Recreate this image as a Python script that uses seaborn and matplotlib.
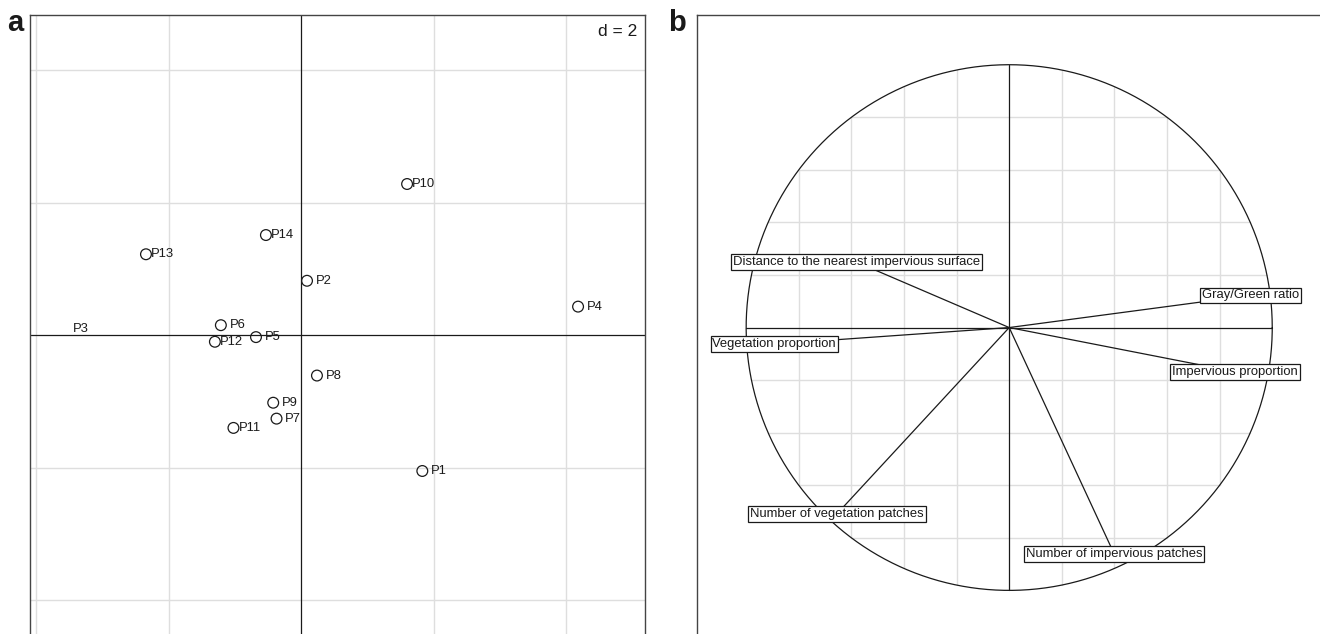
import numpy as np
import pandas as pd
import matplotlib
matplotlib.use("Agg")
import matplotlib.pyplot as plt
import seaborn as sns

# ---- site scores on the first two PCA axes (panel a) ----
sites = ["P1", "P2", "P3", "P4", "P5", "P6", "P7",
         "P8", "P9", "P10", "P11", "P12", "P13", "P14"]
axis1 = [1.83, 0.09, -3.57, 4.18, -0.68, -1.21, -0.37,
         0.24, -0.42, 1.60, -1.02, -1.30, -2.34, -0.53]
axis2 = [-2.05, 0.82, 0.09, 0.43, -0.03, 0.15, -1.26,
         -0.61, -1.02, 2.28, -1.40, -0.10, 1.22, 1.51]
# sites whose symbol is not drawn (label only)
label_only = ["P3"]

# ---- variable correlations with the two axes (panel b) ----
variables = ["Distance to the nearest impervious surface",
             "Gray/Green ratio",
             "Vegetation proportion",
             "Impervious proportion",
             "Number of vegetation patches",
             "Number of impervious patches"]
corr1 = [-0.580, 0.916, -0.893, 0.859, -0.655, 0.399]
corr2 = [0.249, 0.122, -0.063, -0.168, -0.709, -0.861]

grid_step_a = 2
grid_step_b = 0.2

sns.set_style("white")
plt.rcParams["font.family"] = ["Liberation Sans", "DejaVu Sans"]

FG = "#1a1a1a"
GRID = "#dedede"
FRAME = "#444444"

fig = plt.figure(figsize=(13.2, 6.34), dpi=100)
W, H = 1320, 634


def place(left, top, width, height):
    return [left / W, 1 - (top + height) / H, width / W, height / H]


# ================= panel a =================
ax = fig.add_axes(place(30, 15, 615, 625))
ax.set_xlim(-4.09, 5.19)
ax.set_ylim(-4.60, 4.83)

for g in np.arange(-4, 5, grid_step_a):
    if g == 0:
        continue
    ax.axvline(g, color=GRID, lw=1.0, zorder=0)
    ax.axhline(g, color=GRID, lw=1.0, zorder=0)
ax.axhline(0, color=FG, lw=0.9, zorder=1)
ax.axvline(0, color=FG, lw=0.9, zorder=1)

df = pd.DataFrame({"site": sites, "axis1": axis1, "axis2": axis2})
shown = df[~df["site"].isin(label_only)]
sns.scatterplot(data=shown, x="axis1", y="axis2", ax=ax, s=60,
                marker="o", facecolor="none", edgecolor=FG,
                linewidth=0.9, zorder=3, legend=False)
for _, r in df.iterrows():
    ax.annotate(r["site"], (r["axis1"], r["axis2"]),
                xytext=(11.9, 0), textcoords="offset points",
                ha="center", va="center", fontsize=9.4, color=FG, zorder=4)

ax.text(0.987, 0.974, "d = 2", transform=ax.transAxes, ha="right",
        va="center", fontsize=12.5, color=FG)

ax.set_xticks([])
ax.set_yticks([])
ax.set_xlabel("")
ax.set_ylabel("")
for sp in ax.spines.values():
    sp.set_color(FRAME)
    sp.set_linewidth(1.0)

# ================= panel b =================
bx = fig.add_axes(place(696.7, 15.3, 625, 624.5))
lim = 1.188
bx.set_xlim(-lim, lim)
bx.set_ylim(-lim, lim)

# grid clipped to the unit circle
for g in np.arange(-0.8, 0.81, grid_step_b):
    if abs(g) < 1e-9:
        continue
    half = np.sqrt(1 - g ** 2)
    bx.plot([g, g], [-half, half], color=GRID, lw=1.0, zorder=0)
    bx.plot([-half, half], [g, g], color=GRID, lw=1.0, zorder=0)

bx.plot([-1, 1], [0, 0], color=FG, lw=0.9, zorder=1)
bx.plot([0, 0], [-1, 1], color=FG, lw=0.9, zorder=1)

theta = np.linspace(0, 2 * np.pi, 400)
bx.plot(np.cos(theta), np.sin(theta), color=FG, lw=0.9, zorder=2)

for name, c1, c2 in zip(variables, corr1, corr2):
    bx.plot([0, c1], [0, c2], color=FG, lw=0.9, zorder=2)
    bx.text(c1, c2, name, ha="center", va="center", fontsize=9.4,
            color=FG, zorder=5,
            bbox=dict(boxstyle="square,pad=0.15", fc="white",
                      ec=FG, lw=0.9))

bx.set_xticks([])
bx.set_yticks([])
for sp in bx.spines.values():
    sp.set_color(FRAME)
    sp.set_linewidth(1.0)

# panel letters
fig.text(7 / W, 1 - 31 / H, "a", fontsize=21, fontweight="bold",
         ha="left", va="baseline", color=FG)
fig.text(668 / W, 1 - 31 / H, "b", fontsize=21, fontweight="bold",
         ha="left", va="baseline", color=FG)

fig.savefig("out.png", dpi=100)
